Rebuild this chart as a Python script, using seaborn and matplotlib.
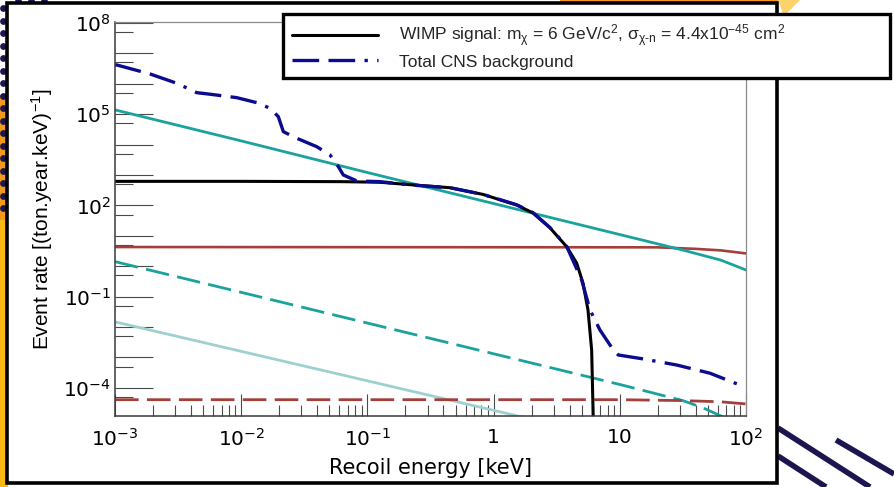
import numpy as np
import matplotlib
matplotlib.use("Agg")
import matplotlib.pyplot as plt
import seaborn as sns
from matplotlib.patches import Rectangle, Polygon
from matplotlib.ticker import FixedLocator, FuncFormatter, NullFormatter

# ---------------- data (log10 values) ----------------
wimp_logE = [-3.0, -2.0, -1.2, -0.9, -0.66, -0.345, -0.084, 0.183, 0.312, 0.447,
             0.579, 0.658, 0.708, 0.748, 0.777, 0.788, 0.795]
wimp_logR = [2.79, 2.79, 2.78, 2.76, 2.68, 2.58, 2.36, 2.01, 1.75, 1.26,
             0.64, 0.105, -0.55, -1.44, -2.76, -4.73, -6.0]

cns_logE = [-3.0, -2.987, -2.723, -2.511, -2.353, -2.247, -2.036, -1.877, -1.772, -1.706,
            -1.666, -1.560, -1.402, -1.296, -1.230, -1.191, -1.084, -0.900, -0.662,
            -0.345, -0.084, 0.183, 0.312, 0.447, 0.579, 0.698, 0.764, 0.843, 0.949,
            0.988, 1.186, 1.451, 1.715, 1.953]
cns_logR = [6.62, 6.618, 6.322, 6.016, 5.707, 5.655, 5.543, 5.378, 5.194, 4.918,
            4.424, 4.207, 3.931, 3.658, 3.273, 3.0, 2.803, 2.78, 2.67,
            2.58, 2.36, 2.02, 1.76, 1.27, 0.65, -0.454, -1.44, -2.10, -2.757,
            -2.92, -3.05, -3.25, -3.52, -3.91]

teal_logE = [-3.0, -2.0, -1.0, 0.0, 1.0, 1.5, 1.8, 2.0]
teal_logR = [5.14, 4.12, 3.08, 2.06, 1.04, 0.53, 0.20, -0.125]

teal_dash_logE = [-3.0, -2.0, -1.0, 0.0, 1.0, 1.5, 1.66, 2.0]
teal_dash_logR = [0.15, -0.86, -1.87, -2.88, -3.89, -4.42, -4.66, -5.3]

pale_logE = [-3.0, -2.0, -1.0, 0.0, 0.5]
pale_logR = [-1.83, -2.80, -3.77, -4.74, -5.23]

brown_logE = [-3.0, 1.3, 1.6, 1.8, 2.0]
brown_logR = [0.63, 0.62, 0.57, 0.52, 0.42]

brown_dash_logE = [-3.0, 1.0, 1.5, 1.8, 2.0]
brown_dash_logR = [-4.39, -4.39, -4.42, -4.46, -4.53]

x_ticklabels = [r"$\mathregular{10^{-3}}$", r"$\mathregular{10^{-2}}$",
                r"$\mathregular{10^{-1}}$", "1", "10", r"$\mathregular{10^{2}}$"]
y_label_exps = [8, 5, 2, -1, -4]

label_wimp = (r"WIMP signal: m$_{\chi}$ = 6 GeV/c$^{2}$, "
              r"$\sigma_{\chi\text{-}n}$ = 4.4x10$^{-45}$ cm$^{2}$")
label_cns = "Total CNS background"

# ---------------- style ----------------
sns.set_theme(style="white")
plt.rcParams["font.family"] = ["Liberation Sans", "DejaVu Sans"]
plt.rcParams["mathtext.fontset"] = "custom"
plt.rcParams["mathtext.rm"] = "Liberation Sans"
plt.rcParams["mathtext.it"] = "Liberation Sans"
plt.rcParams["mathtext.default"] = "regular"

W, H = 894, 487
fig = plt.figure(figsize=(W / 100, H / 100), dpi=100)
fig.patch.set_facecolor("white")

# --- slide decoration drawn on a full-figure background axes in pixel units ---
bg = fig.add_axes([0, 0, 1, 1], zorder=0)
bg.set_xlim(0, W)
bg.set_ylim(H, 0)
bg.axis("off")
bg.add_patch(Rectangle((0, 220), 8, 267, facecolor="#fcb813", edgecolor="none"))
bg.add_patch(Rectangle((0, 95), 8, 125, facecolor="#f39a1e", edgecolor="none"))
dot_y = np.arange(8, 212, 12.5)
bg.scatter(np.full_like(dot_y, 3.0), dot_y, s=24, color="#1c1650", linewidths=0, zorder=2)
bg.scatter([18, 31, 44], [1, 1, 1], s=24, color="#1c1650", linewidths=0, zorder=2)
bg.add_patch(Polygon([(560, 0), (778, 0), (778, 4), (560, 4)], closed=True,
                     facecolor="#f39a1e", edgecolor="none"))
bg.add_patch(Polygon([(778, 0), (800, 0), (784, 16)], closed=True,
                     facecolor="#fcd36b", edgecolor="none"))
for (x0, y0, x1, y1) in [(778, 428, 870, 487), (778, 456, 826, 487), (836, 440, 894, 474)]:
    bg.plot([x0, x1], [y0, y1], color="#1c1650", lw=4, solid_capstyle="butt")
bg.add_patch(Rectangle((7, 3), 770, 480, facecolor="white", edgecolor="black",
                       lw=2.6, zorder=3))

def fx(px):
    return px / W

def fy(py):
    return 1 - py / H

# ---------------- axes ----------------
ax = fig.add_axes([fx(115), fy(415.5), fx(746 - 115), fy(22) - fy(415.5)], zorder=3)
ax.set_xscale("log")
ax.set_yscale("log")
ax.set_facecolor("white")

def pw(a):
    return np.power(10.0, np.asarray(a, dtype=float))

c_teal = "#1aa39e"
c_pale = "#9fd0d0"
c_brown = "#a3403b"
c_navy = "#0b0b8e"

sns.lineplot(x=pw(pale_logE), y=pw(pale_logR), ax=ax, color=c_pale, lw=2.0, sort=False)
sns.lineplot(x=pw(teal_dash_logE), y=pw(teal_dash_logR), ax=ax, color=c_teal, lw=2.0, sort=False)
ax.lines[-1].set_dashes((8.5, 3.0))
sns.lineplot(x=pw(brown_dash_logE), y=pw(brown_dash_logR), ax=ax, color=c_brown, lw=2.0, sort=False)
ax.lines[-1].set_dashes((8.5, 3.0))
sns.lineplot(x=pw(brown_logE), y=pw(brown_logR), ax=ax, color=c_brown, lw=1.9, sort=False)
sns.lineplot(x=pw(teal_logE), y=pw(teal_logR), ax=ax, color=c_teal, lw=2.0, sort=False)
sns.lineplot(x=pw(wimp_logE), y=pw(wimp_logR), ax=ax, color="black", lw=2.2, sort=False)
h_wimp = ax.lines[-1]
sns.lineplot(x=pw(cns_logE), y=pw(cns_logR), ax=ax, color=c_navy, lw=2.4, sort=False)
h_cns = ax.lines[-1]
h_cns.set_dashes((8, 2.8, 8, 2.8, 1, 2.8))

ax.set_xlim(1e-3, 1e2)
ax.set_ylim(10 ** -4.91, 10 ** 8.03)

for s in ["left", "bottom"]:
    ax.spines[s].set_color("#3a3a3a")
    ax.spines[s].set_linewidth(1.1)
for s in ["top", "right"]:
    ax.spines[s].set_color("#8a8a8a")
    ax.spines[s].set_linewidth(0.9)

# x ticks
xmaj = [1e-3, 1e-2, 1e-1, 1, 10, 100]
ax.xaxis.set_major_locator(FixedLocator(xmaj))
ax.set_xticklabels(x_ticklabels)
xmin_t = [m * 10.0 ** e for e in range(-3, 2) for m in range(2, 10)]
ax.xaxis.set_minor_locator(FixedLocator(xmin_t))
ax.xaxis.set_minor_formatter(NullFormatter())

# y ticks
ymaj = [10.0 ** e for e in range(-4, 9)]
ax.yaxis.set_major_locator(FixedLocator(ymaj))
def yfmt(v, pos):
    e = int(round(np.log10(v)))
    return r"$\mathregular{10^{%d}}$" % e if e in y_label_exps else ""
ax.yaxis.set_major_formatter(FuncFormatter(yfmt))
ymin_t = [5 * 10.0 ** e for e in range(-5, 8)]
ax.yaxis.set_minor_locator(FixedLocator(ymin_t))
ax.yaxis.set_minor_formatter(NullFormatter())

ax.tick_params(axis="x", which="major", direction="in", length=16, width=0.8,
               color="#4a4a4a", labelsize=14.5, pad=9, labelcolor="black",
               labelfontfamily="DejaVu Sans", top=False, bottom=True)
ax.tick_params(axis="x", which="minor", direction="in", length=8, width=0.8,
               color="#4a4a4a", top=False, bottom=True)
ax.tick_params(axis="y", which="major", direction="in", length=27, width=0.8,
               color="#4a4a4a", labelsize=14.5, pad=3, labelcolor="black",
               labelfontfamily="DejaVu Sans", right=False, left=True)
ax.tick_params(axis="y", which="minor", direction="in", length=13, width=0.8,
               color="#4a4a4a", right=False, left=True)

ax.set_xlabel("Recoil energy [keV]", fontsize=15, labelpad=6, color="black",
              fontfamily="DejaVu Sans")
ax.set_ylabel(r"Event rate [(ton.year.keV)$^{-1}$]", fontsize=15, labelpad=6, color="black")

# legend
leg = fig.legend([h_wimp, h_cns], [label_wimp, label_cns],
                 loc="upper left", bbox_to_anchor=(fx(283), fy(82), fx(890) - fx(283), fy(14) - fy(82)),
                 mode="expand", fontsize=12.5, frameon=True, fancybox=False, framealpha=1,
                 edgecolor="black", facecolor="white", handlelength=5.0, handletextpad=1.2,
                 borderpad=0.5, labelspacing=0.3, borderaxespad=0)
leg.get_frame().set_linewidth(2.4)
leg.set_zorder(10)

fig.savefig("out.png", dpi=100)
